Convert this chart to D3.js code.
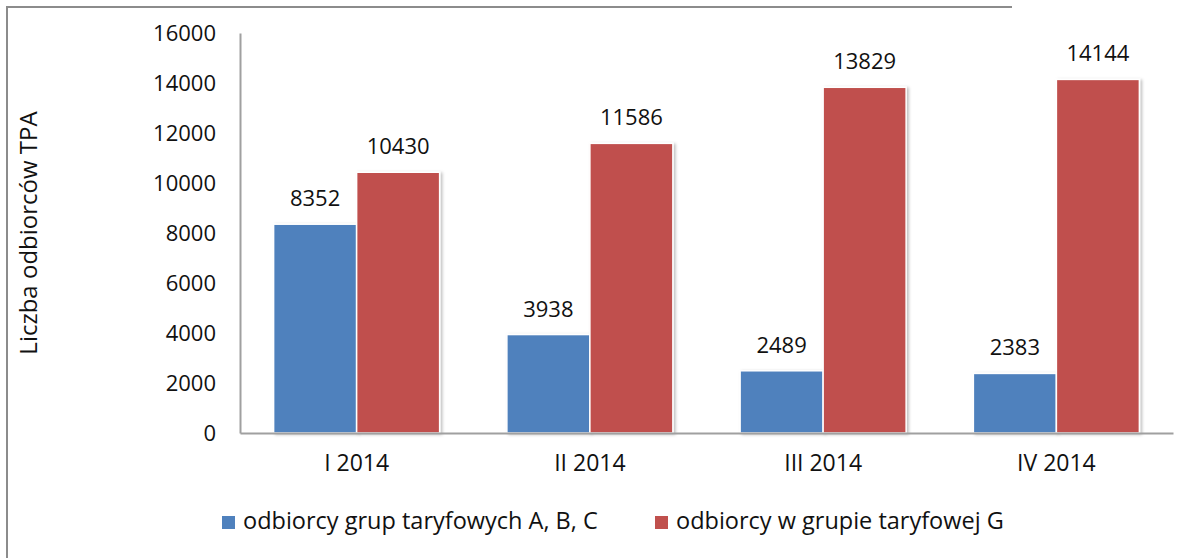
<!DOCTYPE html>
<html>
<head>
<meta charset="utf-8">
<script src="https://cdn.jsdelivr.net/npm/d3@7"></script>
<style>
  body { margin: 0; background: #fff; }
  text { font-family: "Open Sans", sans-serif; fill: #111; }
</style>
</head>
<body>
<svg id="chart" width="1200" height="558"></svg>
<script>
// data
const quarters = ["I 2014", "II 2014", "III 2014", "IV 2014"];
const seriesNames = ["odbiorcy grup taryfowych A, B, C", "odbiorcy w grupie taryfowej G"];
const groupABC = [8352, 3938, 2489, 2383];
const groupG = [10430, 11586, 13829, 14144];
const yTicks = [0, 2000, 4000, 6000, 8000, 10000, 12000, 14000, 16000];
const colors = ["#4F81BD", "#C0504D"];

const svg = d3.select("#chart");
const margin = { left: 240, right: 27, top: 33, bottom: 125 };
const width = 1200, height = 558;

// outer frame (only left and top edges are visible in the original)
svg.append("line").attr("x1", 7).attr("x2", 7).attr("y1", 7).attr("y2", height)
    .attr("stroke", "#8c8c8c").attr("stroke-width", 2);
svg.append("line").attr("x1", 6).attr("x2", 1012).attr("y1", 7).attr("y2", 7)
    .attr("stroke", "#8c8c8c").attr("stroke-width", 2);

const defs = svg.append("defs");
const f = defs.append("filter").attr("id", "shadow")
    .attr("x", "-10%").attr("y", "-10%").attr("width", "130%").attr("height", "130%");
f.append("feDropShadow").attr("dx", 2).attr("dy", 1).attr("stdDeviation", 1.5)
    .attr("flood-color", "#000").attr("flood-opacity", 0.25);

const x0 = d3.scaleBand().domain(quarters)
    .range([margin.left, width - margin.right]);
const x1 = d3.scaleBand().domain([0, 1])
    .range([0, x0.bandwidth()]).paddingInner(0).paddingOuter(0.405);
const y = d3.scaleLinear().domain([0, 16000])
    .range([height - margin.bottom, margin.top]);

// y axis
const yAxis = svg.append("g").attr("transform", `translate(${margin.left},0)`)
    .call(d3.axisLeft(y).tickValues(yTicks).tickFormat(d3.format("d")).tickSize(0).tickPadding(24));
yAxis.select(".domain").attr("stroke", "#a0a0a0").attr("stroke-width", 2);
yAxis.selectAll("text").style("font-size", "22px").attr("fill", "#111");

svg.append("text")
    .attr("transform", `translate(31,${(margin.top + height - margin.bottom) / 2}) rotate(-90)`)
    .attr("text-anchor", "middle").attr("dominant-baseline", "middle")
    .style("font-size", "24px")
    .text("Liczba odbiorców TPA");

// bars
const rows = quarters.map((q, i) => ({ q, vals: [groupABC[i], groupG[i]] }));
const g = svg.selectAll("g.grp").data(rows).join("g").attr("class", "grp")
    .attr("transform", d => `translate(${x0(d.q)},0)`);

g.selectAll("rect").data(d => d.vals.map((v, k) => ({ v, k }))).join("rect")
    .attr("x", d => x1(d.k))
    .attr("width", x1.bandwidth())
    .attr("y", d => y(d.v))
    .attr("height", d => y(0) - y(d.v))
    .attr("fill", d => colors[d.k])
    .attr("stroke", "#fff").attr("stroke-width", 1.5)
    .attr("filter", "url(#shadow)");

g.selectAll("text.val").data(d => d.vals.map((v, k) => ({ v, k }))).join("text")
    .attr("class", "val")
    .attr("x", d => x1(d.k) + x1.bandwidth() / 2)
    .attr("y", d => y(d.v) - 18)
    .attr("text-anchor", "middle")
    .style("font-size", "22px")
    .text(d => d.v);

// x axis
const xAxis = svg.append("g").attr("transform", `translate(0,${y(0)})`)
    .call(d3.axisBottom(x0).tickSize(0).tickPadding(22).tickSizeOuter(0));
xAxis.select(".domain").attr("stroke", "#a0a0a0").attr("stroke-width", 2);
xAxis.selectAll("text").style("font-size", "23px").attr("fill", "#111");

// legend
const legendX = [222, 655];
const lg = svg.selectAll("g.leg").data(seriesNames).join("g").attr("class", "leg")
    .attr("transform", (d, i) => `translate(${legendX[i]},516)`);
lg.append("rect").attr("width", 13).attr("height", 13)
    .attr("fill", (d, i) => colors[i]);
lg.append("text").attr("x", 21).attr("y", 7)
    .attr("dominant-baseline", "middle")
    .style("font-size", "23.5px")
    .text(d => d);
</script>
</body>
</html>
